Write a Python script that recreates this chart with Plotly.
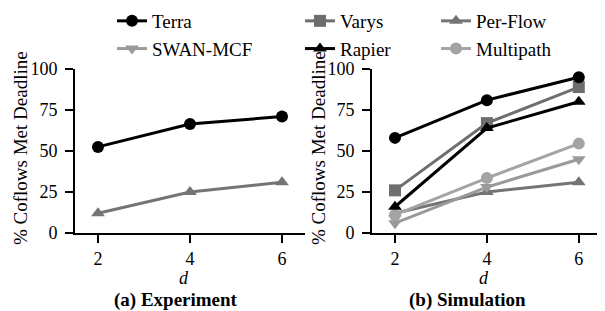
import plotly.graph_objects as go

d_vals = [2, 4, 6]
yticks = [0, 25, 50, 75, 100]

# (a) Experiment
exp_terra = [52.5, 66.5, 71]
exp_perflow = [12, 25, 31]

# (b) Simulation
sim_terra = [58, 81, 95]
sim_varys = [26, 67, 89]
sim_rapier = [16, 64, 80]
sim_multipath = [11, 33.5, 54.5]
sim_swan = [6, 28, 45]
sim_perflow = [12, 25, 31]

# the page body has an 8px margin, so the figure is drawn at (8, 8)
OFF = 8
W, H = 605 - OFF, 311 - OFF
FONT = "Liberation Serif, Times New Roman, DejaVu Serif, serif"

def px(x):
    return (x - OFF) / W

def py(y):
    return 1 - (y - OFF) / H

styles = {
    "Terra": dict(color="#000000", symbol="circle", legend="legend", rank=1),
    "SWAN-MCF": dict(color="#9a9a9a", symbol="triangle-down", legend="legend", rank=2),
    "Varys": dict(color="#6e6e6e", symbol="square", legend="legend2", rank=1),
    "Rapier": dict(color="#000000", symbol="triangle-up", legend="legend2", rank=2),
    "Per-Flow": dict(color="#747474", symbol="triangle-up", legend="legend3", rank=1),
    "Multipath": dict(color="#a4a4a4", symbol="circle", legend="legend3", rank=2),
}

fig = go.Figure()

def add(name, y, xa, ya, show):
    s = styles[name]
    fig.add_trace(go.Scatter(
        x=d_vals, y=y, name=name, mode="lines+markers",
        xaxis=xa, yaxis=ya,
        line=dict(color=s["color"], width=3),
        marker=dict(color=s["color"], symbol=s["symbol"], size=12),
        legend=s["legend"], legendrank=s["rank"], legendgroup=name,
        showlegend=show, cliponaxis=False,
    ))

add("Per-Flow", exp_perflow, "x", "y", False)
add("Terra", exp_terra, "x", "y", False)

add("Per-Flow", sim_perflow, "x2", "y2", True)
add("SWAN-MCF", sim_swan, "x2", "y2", True)
add("Multipath", sim_multipath, "x2", "y2", True)
add("Varys", sim_varys, "x2", "y2", True)
add("Rapier", sim_rapier, "x2", "y2", True)
add("Terra", sim_terra, "x2", "y2", True)

axis_common = dict(
    showline=True, linecolor="black", linewidth=2, ticks="outside",
    ticklen=8, tickwidth=2, tickcolor="black", showgrid=False, zeroline=False,
    tickfont=dict(family=FONT, size=18, color="black"), mirror=False,
    automargin=False,
)
ydom = [py(233), py(69)]
fig.update_layout(
    template="none",
    font=dict(family=FONT, size=18, color="black"),
    xaxis=dict(domain=[px(75), px(305)], range=[1.5, 6.5], tickvals=d_vals,
               anchor="y", **axis_common),
    yaxis=dict(domain=ydom, range=[0, 100], tickvals=yticks, anchor="x",
               ticklabelstandoff=4, **axis_common),
    xaxis2=dict(domain=[px(372), 1.0], range=[1.5, 6.57], tickvals=d_vals,
                anchor="y2", **axis_common),
    yaxis2=dict(domain=ydom, range=[0, 100], tickvals=yticks, anchor="x2",
                ticklabelstandoff=4, **axis_common),
)

legend_common = dict(
    xanchor="left", yanchor="top", bgcolor="rgba(0,0,0,0)",
    font=dict(family=FONT, size=19, color="black"),
    tracegroupgap=0, orientation="v", traceorder="grouped",
)
fig.update_layout(
    legend=dict(x=px(112), y=py(2), **legend_common),
    legend2=dict(x=px(300), y=py(2), **legend_common),
    legend3=dict(x=px(436), y=py(2), **legend_common),
)

annots = []
for d_x, yt_x, sub_x, sub in [(184, 20, 176, "<b>(a) Experiment</b>"),
                              (484, 318, 467, "<b>(b) Simulation</b>")]:
    annots.append(dict(text="% Coflows Met Deadline", x=px(yt_x), y=py(148),
                       xref="paper", yref="paper", textangle=-90,
                       showarrow=False, xanchor="center", yanchor="middle",
                       font=dict(family=FONT, size=19, color="black")))
    annots.append(dict(text="<i>d</i>", x=px(d_x), y=py(278), xref="paper",
                       yref="paper", showarrow=False, xanchor="center",
                       yanchor="middle",
                       font=dict(family=FONT, size=18, color="black")))
    annots.append(dict(text=sub, x=px(sub_x), y=py(300), xref="paper",
                       yref="paper", showarrow=False, xanchor="center",
                       yanchor="middle",
                       font=dict(family=FONT, size=19, color="black")))

fig.update_layout(
    width=W, height=H, margin=dict(l=0, r=0, t=0, b=0, autoexpand=False),
    paper_bgcolor="white", plot_bgcolor="white",
    annotations=annots,
)

fig.write_html("out.html")
